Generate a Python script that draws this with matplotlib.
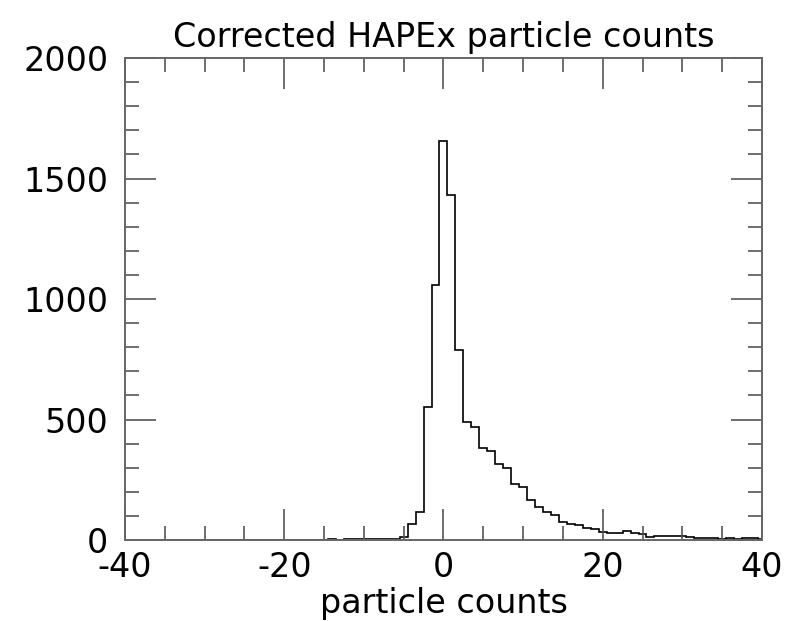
import numpy as np
import matplotlib
matplotlib.use("Agg")
import matplotlib.pyplot as plt
from matplotlib.ticker import MultipleLocator

# bin centres (width 1) and counts
bin_centers = np.arange(-40, 41)
counts_left = [0, 0, 0, 0, 0, 0, 0, 1, 0, 0, 1, 0, 1, 1, 1,   # -40 .. -26
               1, 1, 2, 1, 2, 2, 1, 2, 2, 2, 3,               # -25 .. -15
               2, 3, 3, 3, 4, 4, 5, 5]                        # -14 .. -7
counts_peak = [14, 65, 118, 554, 1060, 1656, 1432, 787, 489, 471]  # -5 .. 4
counts_tail = [381, 370, 315, 298, 231, 219, 164, 139, 115, 104,   # 5 .. 14
               76, 65, 62, 49, 46, 35, 28, 28, 37, 30,             # 15 .. 24
               25, 14, 17, 17, 17, 17, 11, 7, 7, 8,                # 25 .. 34
               6, 7, 6, 7, 8, 5]                                   # 35 .. 40

counts = counts_left + counts_peak + counts_tail
counts = ([0] * (len(bin_centers) - len(counts))) + counts

plt.rcParams["axes.unicode_minus"] = False

fig = plt.figure(figsize=(8.08, 6.21), dpi=100)
ax = fig.add_axes([0.1547, 0.1304, 0.7883, 0.7762])

edges = np.append(bin_centers - 0.5, bin_centers[-1] + 0.5)
ax.stairs(counts, edges, color="black", linewidth=1.2)

ax.set_xlim(-40, 40)
ax.set_ylim(0, 2000)
ax.xaxis.set_major_locator(MultipleLocator(20))
ax.xaxis.set_minor_locator(MultipleLocator(5))
ax.yaxis.set_major_locator(MultipleLocator(500))
ax.yaxis.set_minor_locator(MultipleLocator(100))
ax.tick_params(which="both", direction="in", top=True, right=True,
               labelsize=24, color="#555555", width=1.2)
ax.tick_params(which="major", length=22)
ax.tick_params(axis="x", which="major", pad=8)
ax.tick_params(axis="y", which="major", pad=12)
ax.tick_params(which="minor", length=10)
for s in ax.spines.values():
    s.set_color("#666666")
    s.set_linewidth(1.4)

ax.set_xlabel("particle counts", fontsize=24, labelpad=2)
ax.set_title("Corrected HAPEx particle counts", fontsize=24, pad=8)

fig.savefig("out.png", dpi=100)
